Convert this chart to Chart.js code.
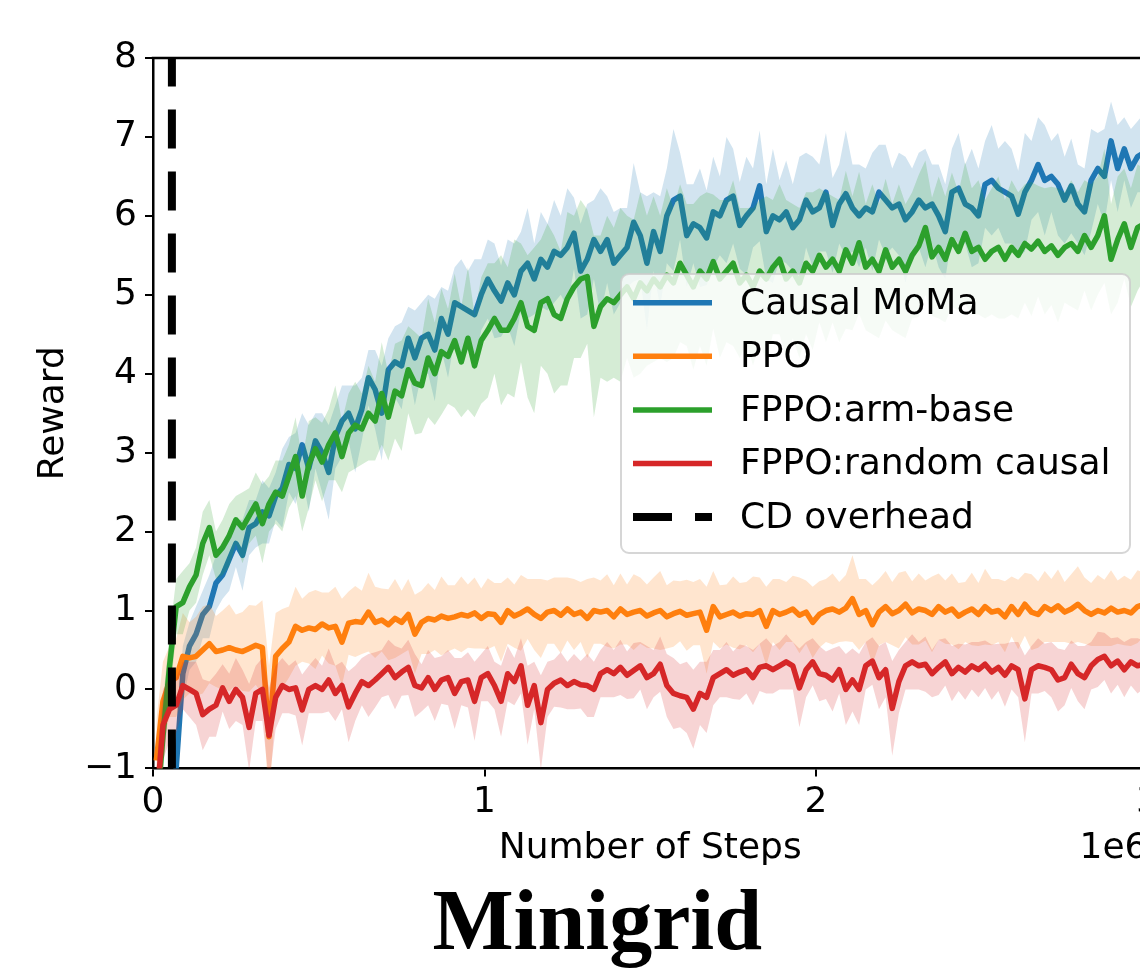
<!DOCTYPE html>
<html>
<head>
<meta charset="utf-8">
<title>Minigrid</title>
<script src="https://cdn.jsdelivr.net/npm/chart.js"></script>
<style>
  html, body { margin: 0; padding: 0; background: #fff; overflow: hidden; }
  #wrap { width: 1140px; height: 970px; overflow: hidden; }
</style>
</head>
<body>
<div id="wrap"><canvas id="chart" width="1194" height="970"></canvas></div>
<script>
// sampled every 20k steps, starting at 10k
const stepStart = 10000;
const stepSize = 20000;
const cdOverhead = 57000;
const yMin = -1, yMax = 8;
const xMax = 3000000;

const causalMoma = [-4.0,-3.0,-1.8,-1.0,0.2,0.55,0.7,0.95,1.05,1.35,
  1.45,1.65,1.85,1.7,2.05,2.1,2.25,2.2,2.45,2.55,
  2.85,2.8,3.1,2.8,3.15,3.0,2.75,3.2,3.4,3.5,
  3.3,3.55,3.95,3.8,3.5,4.05,4.15,4.1,4.45,4.2,
  4.45,4.5,4.3,4.7,4.5,4.9,4.85,4.8,4.75,5.0,
  5.2,5.05,4.92,5.15,5.0,5.3,5.4,5.2,5.45,5.35,
  5.55,5.5,5.6,5.78,5.3,5.45,5.7,5.55,5.7,5.4,
  5.5,5.6,5.92,5.75,5.4,5.8,5.55,6.0,6.2,6.25,
  5.75,5.9,5.85,5.72,6.05,6.0,6.2,6.25,5.88,6.0,
  6.1,6.38,5.8,6.0,5.95,6.05,5.85,5.95,6.2,6.05,
  6.1,6.3,5.88,6.15,6.28,6.1,6.0,6.1,6.05,6.3,
  6.2,6.1,6.15,5.95,6.05,6.2,6.1,6.15,6.0,5.8,
  6.3,6.35,6.15,6.1,6.0,6.4,6.45,6.35,6.3,6.25,
  6.02,6.3,6.45,6.65,6.45,6.5,6.4,6.2,6.38,6.15,
  6.05,6.45,6.6,6.5,6.95,6.6,6.85,6.6,6.75,6.8];
const causalMomaStd = [0.5,0.5,0.45,0.4,0.35,0.3,0.35,0.3,0.4,0.35,
  0.3,0.4,0.3,0.45,0.35,0.3,0.4,0.35,0.3,0.5,
  0.35,0.45,0.4,0.55,0.35,0.5,0.6,0.4,0.45,0.35,
  0.55,0.4,0.35,0.5,0.6,0.4,0.45,0.55,0.4,0.6,
  0.45,0.5,0.65,0.4,0.55,0.45,0.6,0.5,0.7,0.45,
  0.5,0.6,0.45,0.55,0.65,0.5,0.7,0.45,0.6,0.55,
  0.65,0.5,0.75,0.45,0.6,0.7,0.5,0.8,0.55,0.65,
  0.6,0.5,0.75,0.55,0.85,0.5,0.7,0.6,0.9,0.55,
  0.65,0.5,0.75,0.6,0.7,0.5,0.8,0.6,0.55,0.75,
  0.5,0.7,0.6,0.85,0.5,0.65,0.55,0.8,0.6,0.7,
  0.55,0.75,0.6,0.5,0.8,0.55,0.65,0.5,0.75,0.6,
  0.7,0.5,0.65,0.8,0.55,0.6,0.75,0.5,0.65,0.6,
  0.55,0.7,0.5,0.75,0.6,0.55,0.7,0.5,0.65,0.6,
  0.55,0.75,0.5,0.6,0.7,0.45,0.65,0.55,0.6,0.5,
  0.55,0.65,0.45,0.6,0.5,0.55,0.4,0.5,0.45,0.5];

const ppo = [-0.9,-0.15,0.1,0.15,0.42,0.4,0.42,0.5,0.58,0.48,
  0.5,0.53,0.5,0.48,0.52,0.56,0.53,-0.6,0.42,0.52,
  0.6,0.8,0.75,0.78,0.76,0.83,0.78,0.8,0.6,0.84,
  0.86,0.85,0.98,0.85,0.88,0.82,0.9,0.85,0.95,0.7,
  0.85,0.9,0.88,0.93,0.9,0.92,0.95,0.93,0.97,0.9,
  0.96,0.95,0.85,1.0,0.93,0.97,1.02,0.95,0.9,0.98,
  1.0,0.94,1.02,0.95,0.98,0.9,1.0,0.98,1.0,0.92,
  1.02,0.95,0.98,1.0,0.93,0.97,1.0,0.92,0.96,0.99,
  0.94,0.96,0.98,0.75,1.05,0.92,0.95,0.98,0.93,0.96,
  0.95,1.0,0.8,1.0,0.95,0.98,1.02,0.94,0.98,0.85,
  0.95,1.0,1.02,0.98,1.03,1.15,0.95,1.0,0.82,0.98,
  1.05,0.96,1.0,1.08,0.97,1.02,1.0,0.95,1.05,0.98,
  1.02,0.93,0.98,1.02,0.95,1.05,0.98,1.0,0.92,1.05,
  0.95,1.08,0.98,0.95,1.05,1.0,1.06,0.98,1.02,1.08,
  1.0,0.95,1.0,0.97,1.03,0.98,1.0,0.97,1.05,1.08];
const ppoStd = [0.5,0.5,0.45,0.5,0.55,0.45,0.5,0.55,0.5,0.45,
  0.5,0.55,0.45,0.5,0.55,0.5,0.6,0.9,0.55,0.5,
  0.45,0.5,0.4,0.45,0.5,0.4,0.45,0.5,0.55,0.4,
  0.45,0.4,0.5,0.45,0.4,0.45,0.5,0.4,0.45,0.5,
  0.4,0.45,0.38,0.5,0.42,0.4,0.48,0.4,0.45,0.38,
  0.45,0.4,0.5,0.42,0.4,0.48,0.38,0.45,0.5,0.4,
  0.42,0.48,0.4,0.45,0.38,0.5,0.42,0.4,0.46,0.4,
  0.45,0.38,0.48,0.42,0.4,0.45,0.5,0.4,0.42,0.38,
  0.45,0.4,0.42,0.55,0.45,0.4,0.38,0.45,0.42,0.4,
  0.48,0.42,0.5,0.4,0.45,0.38,0.42,0.48,0.4,0.45,
  0.42,0.4,0.45,0.38,0.42,0.55,0.45,0.4,0.5,0.42,
  0.45,0.4,0.48,0.42,0.4,0.45,0.38,0.48,0.42,0.4,
  0.45,0.42,0.38,0.46,0.4,0.48,0.42,0.4,0.45,0.38,
  0.44,0.4,0.48,0.42,0.45,0.4,0.46,0.38,0.44,0.48,
  0.42,0.4,0.45,0.42,0.48,0.4,0.44,0.42,0.46,0.4];

const armBase = [-1.6,-0.6,0.3,1.05,1.1,1.3,1.45,1.85,2.05,1.7,
  1.8,1.95,2.15,2.05,2.2,2.35,2.1,2.35,2.5,2.45,
  2.7,2.95,2.45,2.85,3.05,2.88,3.1,3.25,2.95,3.25,
  3.35,3.3,3.5,3.4,3.75,3.45,3.78,3.72,4.05,3.88,
  3.85,4.2,4.0,4.28,4.22,4.42,4.15,4.45,4.1,4.42,
  4.55,4.7,4.55,4.55,4.7,4.9,4.6,4.55,4.9,4.95,
  4.75,4.7,4.95,5.1,5.2,5.23,4.6,4.85,4.95,4.9,
  5.0,5.1,4.95,5.15,5.05,5.2,5.1,5.25,5.15,5.4,
  5.25,5.1,5.3,5.2,5.42,5.2,5.3,5.4,5.15,5.25,
  5.1,5.3,5.2,5.35,5.45,5.2,5.3,5.15,5.4,5.3,
  5.5,5.35,5.45,5.3,5.57,5.4,5.66,5.35,5.45,5.3,
  5.57,5.35,5.45,5.3,5.5,5.62,5.85,5.48,5.6,5.45,
  5.7,5.55,5.78,5.55,5.6,5.45,5.55,5.6,5.45,5.6,
  5.5,5.65,5.58,5.68,5.55,5.62,5.5,5.6,5.65,5.55,
  5.75,5.6,5.75,6.0,5.45,5.7,5.9,5.6,5.85,5.9];
const armBaseStd = [0.5,0.45,0.4,0.35,0.4,0.3,0.35,0.4,0.35,0.3,
  0.35,0.4,0.3,0.45,0.35,0.4,0.5,0.35,0.4,0.45,
  0.4,0.5,0.45,0.55,0.4,0.5,0.45,0.6,0.45,0.5,
  0.55,0.45,0.6,0.5,0.65,0.55,0.6,0.7,0.55,0.65,
  0.6,0.75,0.65,0.8,0.6,0.85,0.7,0.9,0.65,0.8,
  0.85,0.7,0.95,0.8,1.0,0.75,0.9,1.05,0.8,0.95,
  1.0,0.85,1.1,0.9,1.0,0.85,1.15,0.9,1.05,0.95,
  1.1,0.9,1.0,1.15,0.95,1.05,0.9,1.1,0.95,1.0,
  0.9,1.05,0.95,1.1,0.85,1.0,0.9,1.05,0.95,0.85,
  1.0,0.9,1.05,0.85,0.95,1.0,0.85,0.95,0.9,1.0,
  0.85,0.95,0.8,0.9,1.0,0.85,0.9,0.8,0.95,0.85,
  0.9,0.8,0.95,0.85,0.8,0.9,0.85,0.75,0.9,0.8,
  0.85,0.75,0.9,0.8,0.85,0.75,0.8,0.9,0.75,0.85,
  0.8,0.75,0.85,0.7,0.8,0.75,0.85,0.7,0.8,0.75,
  0.7,0.8,0.75,0.85,0.7,0.8,0.7,0.75,0.8,0.7];

const randomCausal = [-1.5,-0.45,-0.25,-0.2,0.05,0.0,-0.05,-0.32,-0.25,-0.2,
  0.02,-0.15,0.0,-0.1,-0.48,-0.05,0.0,-0.58,-0.1,0.05,
  0.0,0.02,-0.26,0.0,0.05,0.0,0.12,-0.05,0.05,-0.22,
  -0.05,0.1,0.05,0.12,0.2,0.28,0.15,0.22,0.28,0.05,
  0.02,0.15,0.0,0.12,0.15,-0.05,0.1,0.12,-0.15,0.15,
  0.2,0.05,-0.15,0.2,0.1,0.3,-0.2,0.05,-0.42,0.0,
  0.08,0.12,0.05,0.1,0.06,0.05,0.0,0.2,0.25,0.2,
  0.28,0.18,0.24,0.3,0.15,0.2,0.32,0.05,-0.05,-0.08,
  -0.1,-0.25,-0.05,-0.1,0.15,0.2,0.25,0.18,0.22,0.25,
  0.15,0.28,0.3,0.25,0.3,0.35,0.3,0.02,0.25,0.35,
  0.2,0.18,0.12,0.25,0.0,0.12,0.0,0.3,0.36,0.15,
  0.25,-0.24,0.1,0.3,0.35,0.3,0.32,0.2,0.28,0.35,
  0.2,0.28,0.22,0.3,0.25,0.32,0.22,0.28,0.18,0.3,
  0.25,-0.12,0.25,0.3,0.28,0.25,0.12,0.15,0.32,0.2,
  0.15,0.3,0.38,0.42,0.3,0.36,0.25,0.35,0.3,0.32];
const randomCausalStd = [0.5,0.45,0.4,0.35,0.3,0.35,0.4,0.45,0.35,0.4,
  0.3,0.35,0.4,0.35,0.55,0.35,0.4,0.6,0.4,0.35,
  0.3,0.35,0.45,0.3,0.35,0.3,0.4,0.35,0.3,0.45,
  0.35,0.3,0.4,0.35,0.3,0.35,0.4,0.3,0.35,0.4,
  0.3,0.35,0.4,0.3,0.35,0.45,0.3,0.35,0.5,0.3,
  0.35,0.3,0.45,0.35,0.3,0.35,0.5,0.3,0.6,0.35,
  0.3,0.35,0.3,0.35,0.3,0.4,0.35,0.3,0.35,0.3,
  0.35,0.3,0.35,0.3,0.4,0.3,0.35,0.4,0.45,0.4,
  0.45,0.5,0.4,0.45,0.35,0.3,0.35,0.3,0.35,0.3,
  0.35,0.3,0.35,0.3,0.3,0.35,0.3,0.5,0.35,0.3,
  0.35,0.3,0.4,0.3,0.45,0.4,0.45,0.3,0.3,0.4,
  0.35,0.6,0.4,0.3,0.35,0.3,0.35,0.3,0.35,0.3,
  0.35,0.3,0.35,0.3,0.35,0.3,0.35,0.3,0.4,0.3,
  0.35,0.55,0.3,0.35,0.3,0.35,0.4,0.35,0.3,0.35,
  0.4,0.3,0.35,0.3,0.35,0.3,0.35,0.3,0.35,0.3];

const series = [
  { label: 'Causal MoMa', mean: causalMoma, std: causalMomaStd, color: '31,119,180' },
  { label: 'PPO', mean: ppo, std: ppoStd, color: '255,127,14' },
  { label: 'FPPO:arm-base', mean: armBase, std: armBaseStd, color: '44,160,44' },
  { label: 'FPPO:random causal', mean: randomCausal, std: randomCausalStd, color: '214,39,40' }
];

const FONT = 'DejaVu Sans';
Chart.defaults.font.family = FONT;
Chart.defaults.font.size = 36;
Chart.defaults.color = '#000';

function points(values) {
  return values.map((v, i) => ({ x: stepStart + stepSize * i, y: v }));
}

let datasets = [];
series.forEach((s, k) => {
  let base = (series.length - k) * 3;
  datasets.push({
    data: points(s.mean.map((m, i) => m + s.std[i])),
    borderWidth: 0, pointRadius: 0, fill: '+1',
    backgroundColor: 'rgba(' + s.color + ',0.2)', order: base + 2
  });
  datasets.push({
    data: points(s.mean.map((m, i) => m - s.std[i])),
    borderWidth: 0, pointRadius: 0, fill: false, order: base + 1
  });
  datasets.push({
    label: s.label, data: points(s.mean),
    borderColor: 'rgb(' + s.color + ')', borderWidth: 5.5, pointRadius: 0,
    borderJoinStyle: 'round', fill: false, order: base, inLegend: true
  });
});
datasets.push({
  label: 'CD overhead',
  data: [{ x: cdOverhead, y: yMin }, { x: cdOverhead, y: yMax }],
  borderColor: '#000', borderWidth: 8, borderDash: [39, 23], borderCapStyle: 'butt',
  pointRadius: 0, fill: false, order: 0, inLegend: true
});

// matplotlib style legend box + top spine + offset text
const extras = {
  id: 'extras',
  afterDatasetsDraw(chart) {
    const { ctx, chartArea } = chart;
    const x0 = chartArea.right - 526.5, y0 = chartArea.top + 216;
    ctx.save();
    ctx.beginPath();
    ctx.roundRect(x0, y0, 509, 279, 8);
    ctx.fillStyle = 'rgba(255,255,255,0.8)';
    ctx.fill();
    ctx.lineWidth = 2;
    ctx.strokeStyle = 'rgba(204,204,204,0.8)';
    ctx.stroke();
    const items = chart.data.datasets.filter(d => d.inLegend);
    items.forEach((d, i) => {
      const y = y0 + 28.7 + i * 53.6;
      ctx.beginPath();
      ctx.setLineDash(d.borderDash || []);
      ctx.lineCap = 'butt';
      ctx.lineWidth = d.borderWidth;
      ctx.strokeStyle = d.borderColor;
      ctx.moveTo(x0 + 12, y);
      ctx.lineTo(x0 + 91, y);
      ctx.stroke();
      ctx.setLineDash([]);
      ctx.fillStyle = '#000';
      ctx.font = '36px "' + FONT + '"';
      ctx.textBaseline = 'middle';
      ctx.textAlign = 'left';
      ctx.fillText(d.label, x0 + 119, y + 1.5);
    });
    ctx.restore();
  },
  afterDraw(chart) {
    const { ctx, chartArea } = chart;
    ctx.save();
    ctx.strokeStyle = '#000';
    ctx.lineWidth = 2.5;
    ctx.beginPath();
    ctx.moveTo(chartArea.left - 1.25, chartArea.top);
    ctx.lineTo(chartArea.right, chartArea.top);
    ctx.lineTo(chartArea.right, chartArea.bottom);
    ctx.stroke();
    ctx.fillStyle = '#000';
    ctx.font = '36px "' + FONT + '"';
    ctx.textAlign = 'right';
    ctx.textBaseline = 'alphabetic';
    ctx.fillText('1e6', chartArea.right, chartArea.bottom + 90);
    ctx.restore();
  }
};

new Chart(document.getElementById('chart'), {
  type: 'line',
  data: { datasets: datasets },
  options: {
    responsive: false,
    animation: false,
    layout: { padding: { left: 47, right: 46.5, top: 58, bottom: 0 } },
    plugins: {
      legend: { display: false },
      tooltip: { enabled: false },
      title: {
        display: true, text: 'Minigrid', position: 'bottom', color: '#000',
        font: { family: 'Liberation Serif', weight: 'bold', size: 86, lineHeight: 1 },
        padding: { top: 14, bottom: 0 }
      }
    },
    scales: {
      x: {
        type: 'linear', min: 0, max: xMax,
        afterFit: (scale) => { scale.height = 101.6; },
        border: { display: true, color: '#000', width: 2.5 },
        grid: { drawOnChartArea: false, drawTicks: true, tickLength: 8, color: '#000', lineWidth: 2 },
        ticks: { stepSize: 1000000, padding: 5, maxRotation: 0, callback: (v) => String(v / 1000000) },
        title: { display: true, text: 'Number of Steps', padding: { top: 0, bottom: 0 } }
      },
      y: {
        min: yMin, max: yMax,
        afterFit: (scale) => { scale.width = 106; },
        border: { display: true, color: '#000', width: 2.5 },
        grid: { drawOnChartArea: false, drawTicks: true, tickLength: 8, color: '#000', lineWidth: 2 },
        ticks: { stepSize: 1, padding: 8, callback: (v) => (v < 0 ? '\u2212' + Math.abs(v) : String(v)) },
        title: { display: true, text: 'Reward', padding: { top: -14.6, bottom: 0 } }
      }
    }
  },
  plugins: [extras]
});
</script>
</body>
</html>
